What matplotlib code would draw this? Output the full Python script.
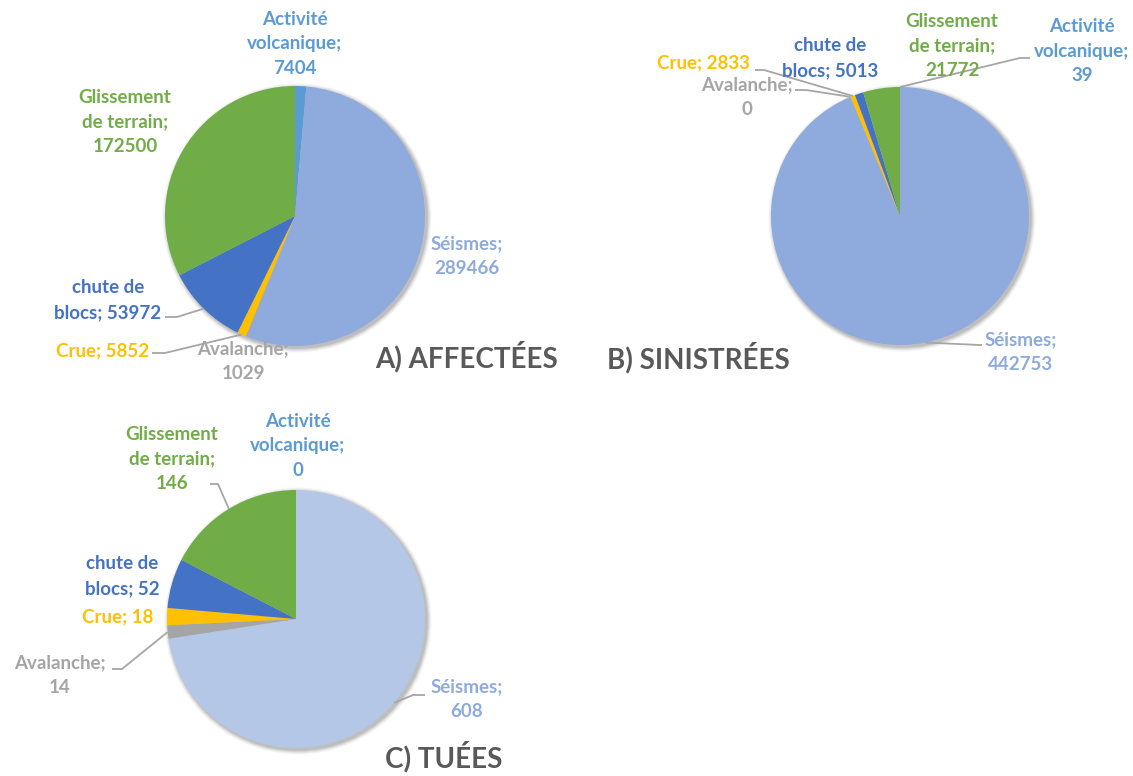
import numpy as np
import matplotlib
matplotlib.use("Agg")
import matplotlib.pyplot as plt
from matplotlib.patches import Circle

# ---------------- data ----------------
categories = ["Activité\nvolcanique", "Séismes", "Avalanche", "Crue",
              "chute de\nblocs", "Glissement\nde terrain"]
separators = ["\n", "\n", "\n", " ", " ", "\n"]
affectees = [7404, 289466, 1029, 5852, 53972, 172500]
sinistrees = [39, 442753, 0, 2833, 5013, 21772]
tuees = [0, 608, 14, 18, 52, 146]
titles = ["A) AFFECTÉES", "B) SINISTRÉES", "C) TUÉES"]

colors_ab = ["#5B9BD5", "#8FAADC", "#A5A5A5", "#FFC000", "#4472C4", "#70AD47"]
colors_c = ["#5B9BD5", "#B4C7E7", "#A5A5A5", "#FFC000", "#4472C4", "#70AD47"]
text_colors = ["#5B9BD5", "#8FAADC", "#A5A5A5", "#FFC000", "#4472C4", "#70AD47"]

W, H = 1133, 776
FONT = "Lato"

fig = plt.figure(figsize=(W / 100, H / 100), dpi=100)
ax = fig.add_axes([0, 0, 1, 1])


def Y(y):
    return H - y


# layout per pie: center (px), radius, label centres, leader elbows/ends, title pos
layouts = [
    dict(values=affectees, colors=colors_ab, center=(295, 216), r=130,
         labels=[(295, 44), (467, 256), (243, 361), (103, 351), (108, 300), (125, 122)],
         leaders={3: [(165, 353), (152, 353)], 4: [(177, 317), (165, 317)]},
         title=(375, 357)),
    dict(values=sinistrees, colors=colors_ab, center=(900, 216), r=129,
         labels=[(1082, 51), (1021, 352), (747, 97), (703, 63), (830, 58), (952, 46)],
         leaders={0: [(1020, 58), (1030, 58)], 1: [(980, 345), (982, 345)],
                  2: [(806, 90), (795, 90)], 3: [(764, 70), (755, 70)]},
         title=(607, 358)),
    dict(values=tuees, colors=colors_c, center=(296, 619), r=129,
         labels=[(298, 446), (467, 699), (60, 675), (118, 617), (122, 576), (172, 459)],
         leaders={1: [(413, 695), (425, 695)], 2: [(122, 669), (112, 669)],
                  5: [(218, 484), (210, 484)]},
         title=(385, 757)),
]

for lay, title in zip(layouts, titles):
    cx, cy = lay["center"]
    r = lay["r"]
    # soft shadow
    for k, a in zip(range(6, 0, -1), [0.02, 0.03, 0.04, 0.05, 0.06, 0.08]):
        ax.add_patch(Circle((cx + 2, Y(cy) - 2), r + k * 0.8, color="black",
                            alpha=a, lw=0, zorder=0))
    wedges, _ = ax.pie(lay["values"], colors=lay["colors"], startangle=90,
                       counterclock=False, center=(cx, Y(cy)), radius=r,
                       wedgeprops=dict(linewidth=0), frame=True)
    for w in wedges:
        w.set_zorder(1)
    for i, (cat, sep, val) in enumerate(zip(categories, separators, lay["values"])):
        lx, ly = lay["labels"][i]
        ax.text(lx, Y(ly), f"{cat};{sep}{val}", ha="center", va="center",
                color=text_colors[i], fontsize=13.5, fontweight="bold",
                family=FONT, linespacing=1.55, zorder=3)
        if i in lay["leaders"]:
            w = wedges[i]
            ang = np.deg2rad((w.theta1 + w.theta2) / 2)
            sx = cx + r * np.cos(ang)
            sy = Y(cy) + r * np.sin(ang)
            pts = [(sx, sy)] + [(px, Y(py)) for px, py in lay["leaders"][i]]
            xs, ys = zip(*pts)
            ax.plot(xs, ys, color="#A6A6A6", lw=1.3, zorder=2,
                    solid_capstyle="butt")
    tx, ty = lay["title"]
    ax.text(tx, Y(ty), title, ha="left", va="center", color="#595959",
            fontsize=20, fontweight="bold", family=FONT, zorder=3)

ax.set_xlim(0, W)
ax.set_ylim(0, H)
ax.set_aspect("equal")
ax.axis("off")
fig.savefig("out.png", dpi=100)
